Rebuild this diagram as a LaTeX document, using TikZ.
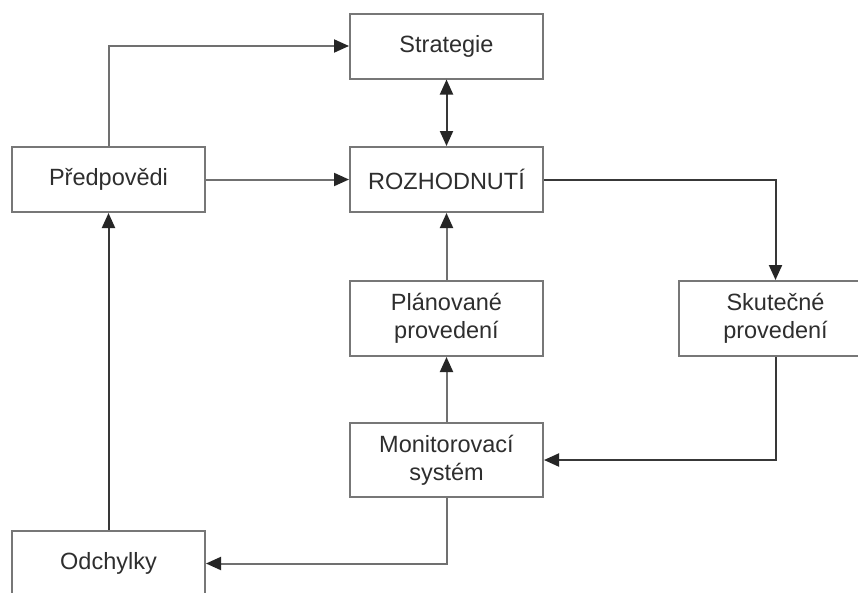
\documentclass[tikz,border=0pt]{standalone}
\usepackage{fontspec}
\setmainfont{Liberation Sans}
\usetikzlibrary{arrows.meta}
\definecolor{boxline}{HTML}{777777}
\definecolor{lineg}{HTML}{707070}
\definecolor{lined}{HTML}{383838}
\definecolor{txt}{HTML}{2E2E2E}
\tikzset{
  box/.style={draw=boxline, line width=2pt, minimum width=193pt, minimum height=65pt,
    inner sep=0pt, align=center, text=txt, font=\fontsize{23.5}{28}\selectfont},
  tallbox/.style={box, minimum height=75pt},
  tip/.tip={Triangle[length=15pt,width=13pt,color=black!85]},
  conn/.style={draw=lineg, line width=2pt, -tip},
  connd/.style={draw=lined, line width=2pt, -tip},
}
\begin{document}
\begin{tikzpicture}[x=1pt,y=-1pt]
\useasboundingbox (0,0) rectangle (858,592);
\clip (0,0) rectangle (858,592);
\fill[white] (0,0) rectangle (858,592);
\node[box] (strat) at (446.5,46) {Strategie};
\node[box] (rozh) at (446.5,179.5) {ROZHODNUTÍ};
\node[box] (pred) at (108.5,179.5) {Předpovědi};
\node[tallbox] (plan) at (446.5,318.5) {Plánované\\provedení};
\node[tallbox] (skut) at (775.5,318.5) {Skutečné\\provedení};
\node[box, minimum height=74pt] (mon) at (446.5,460) {Monitorovací\\systém};
\node[box] (odch) at (108.5,563.5) {Odchylky};
\draw[conn] (pred.north) |- (strat.west);
\draw[conn] (pred.east) -- (rozh.west);
\draw[connd, tip-tip] (strat.south) -- (rozh.north);
\draw[conn] (plan.north) -- (rozh.south);
\draw[conn] (mon.north) -- (plan.south);
\draw[connd] (rozh.east) -| (skut.north);
\draw[connd] (skut.south) |- (mon.east);
\draw[conn] (mon.south) |- (odch.east);
\draw[connd] (odch.north) -- (pred.south);
\end{tikzpicture}
\end{document}
